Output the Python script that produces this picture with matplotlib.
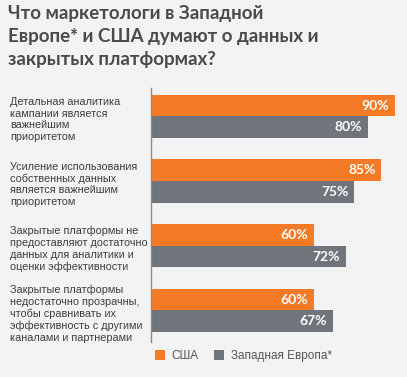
import matplotlib
matplotlib.use('Agg')
import matplotlib.pyplot as plt
import matplotlib.transforms as mtransforms
import numpy as np

# data
categories = ['Детальная аналитика\nкампании является\nважнейшим\nприоритетом',
              'Усиление использования\nсобственных данных\nявляется важнейшим\nприоритетом',
              'Закрытые платформы не\nпредоставляют достаточно\nданных для аналитики и\nоценки эффективности',
              'Закрытые платформы\nнедостаточно прозрачны,\nчтобы сравнивать их\nэффективность с другими\nканалами и партнерами']
usa = [90, 85, 60, 60]
europe = [80, 75, 72, 67]
series_names = ['США', 'Западная Европа*']
title = 'Что маркетологи в Западной\nЕвропе* и США думают о данных и\nзакрытых платформах?'

bg = '#f2f3f2'
orange = '#f47a26'
gray = '#70757c'
W, H = 407, 377

fig = plt.figure(figsize=(W / 100, H / 100), dpi=100, facecolor=bg)
ax = fig.add_axes([151 / W, (H - 342) / H, (W - 151) / W, (342 - 88) / H])
ax.set_facecolor(bg)

y = np.arange(len(categories))
bh = 0.335
b1 = ax.barh(y - bh / 2, usa, height=bh, color=orange, edgecolor='none')
b2 = ax.barh(y + bh / 2, europe, height=bh, color=gray, edgecolor='none')

ax.set_xlim(0, 256 / 2.71)
ax.set_ylim(3.49, -0.44)
for s in ['top', 'right', 'bottom']:
    ax.spines[s].set_visible(False)
ax.spines['left'].set_color('#8a8a8a')
ax.spines['left'].set_linewidth(1.0)
ax.set_xticks([])
ax.set_yticks([])

for bars, vals in ((b1, usa), (b2, europe)):
    for rect, v in zip(bars, vals):
        ax.text(v - 2.2, rect.get_y() + rect.get_height() / 2, f'{v}%',
                ha='right', va='center', color='white', fontsize=10,
                fontweight='bold', family='Lato')

trans = mtransforms.blended_transform_factory(fig.transFigure, ax.transData)
for i, lab in enumerate(categories):
    ax.text(10 / W, i + 0.05, lab, transform=trans, ha='left', va='center',
            fontsize=7.8, color='#3d3d3d', family='Liberation Sans', linespacing=1.2)

fig.text(8 / W, 1 - 5 / H, title, ha='left', va='top', fontsize=13.5,
         fontweight='bold', color='#4a4a4a', family='Lato', linespacing=1.42)

leg = ax.legend([b1, b2], series_names, loc='center left',
                bbox_to_anchor=(144 / W, 1 - 356 / H), bbox_transform=fig.transFigure,
                ncol=2, frameon=False, handlelength=0.85, handleheight=0.85,
                handletextpad=0.6, columnspacing=1.3, prop={'family': 'Liberation Sans', 'size': 8.5})
for t in leg.get_texts():
    t.set_color('#555555')

fig.savefig('out.png', dpi=100, facecolor=bg)
